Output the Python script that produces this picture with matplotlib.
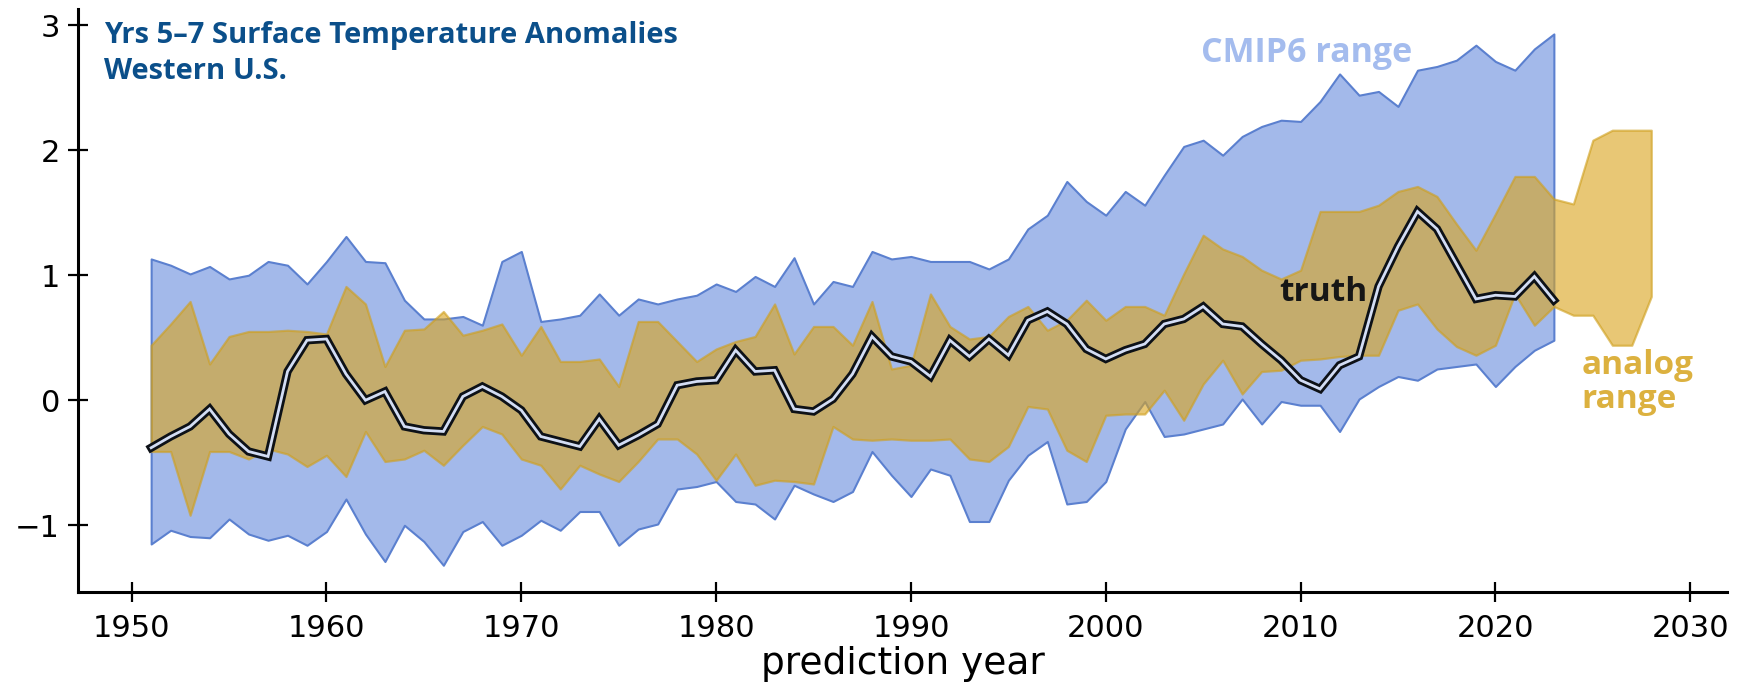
import numpy as np
import matplotlib.pyplot as plt

# prediction years
years = np.arange(1951, 2024)
analog_years = np.arange(1951, 2029)

truth = [-0.38, -0.29, -0.21, -0.07, -0.27, -0.41, -0.45, 0.23, 0.48, 0.49,
         0.21, 0.00, 0.07, -0.21, -0.24, -0.25, 0.03, 0.11, 0.03, -0.08,
         -0.29, -0.33, -0.37, -0.15, -0.36, -0.28, -0.19, 0.12, 0.15, 0.16,
         0.40, 0.23, 0.24, -0.07, -0.09, 0.01, 0.21, 0.51, 0.35, 0.31,
         0.19, 0.48, 0.35, 0.49, 0.36, 0.64, 0.71, 0.61, 0.41, 0.33,
         0.40, 0.45, 0.61, 0.65, 0.75, 0.61, 0.59, 0.45, 0.32, 0.16,
         0.09, 0.28, 0.35, 0.91, 1.23, 1.51, 1.37, 1.09, 0.81, 0.84,
         0.83, 0.99, 0.80]

cmip_hi = [1.13, 1.08, 1.01, 1.07, 0.97, 1.00, 1.11, 1.08, 0.93, 1.11,
           1.31, 1.11, 1.10, 0.80, 0.65, 0.65, 0.67, 0.60, 1.11, 1.19,
           0.63, 0.65, 0.68, 0.85, 0.68, 0.81, 0.77, 0.81, 0.84, 0.93,
           0.87, 0.99, 0.91, 1.14, 0.77, 0.95, 0.91, 1.19, 1.13, 1.15,
           1.11, 1.11, 1.11, 1.05, 1.13, 1.37, 1.48, 1.75, 1.59, 1.48,
           1.67, 1.56, 1.80, 2.03, 2.08, 1.96, 2.11, 2.19, 2.24, 2.23,
           2.39, 2.61, 2.44, 2.47, 2.35, 2.64, 2.67, 2.72, 2.84, 2.71,
           2.64, 2.81, 2.93]

cmip_lo = [-1.15, -1.04, -1.09, -1.10, -0.95, -1.07, -1.12, -1.08, -1.16, -1.05,
           -0.79, -1.07, -1.29, -1.00, -1.13, -1.32, -1.05, -0.97, -1.16, -1.08,
           -0.96, -1.04, -0.89, -0.89, -1.16, -1.03, -0.99, -0.71, -0.69, -0.65,
           -0.81, -0.83, -0.95, -0.68, -0.75, -0.81, -0.73, -0.41, -0.60, -0.77,
           -0.55, -0.60, -0.97, -0.97, -0.64, -0.44, -0.33, -0.83, -0.81, -0.65,
           -0.23, -0.01, -0.29, -0.27, -0.23, -0.19, 0.01, -0.19, -0.01, -0.04,
           -0.04, -0.25, 0.01, 0.11, 0.19, 0.16, 0.25, 0.27, 0.29, 0.11,
           0.27, 0.40, 0.48]

analog_hi = [0.44, 0.61, 0.79, 0.29, 0.51, 0.55, 0.55, 0.56, 0.55, 0.53,
             0.91, 0.77, 0.27, 0.56, 0.57, 0.71, 0.52, 0.56, 0.61, 0.36,
             0.59, 0.31, 0.31, 0.33, 0.11, 0.63, 0.63, 0.47, 0.31, 0.41,
             0.47, 0.51, 0.77, 0.37, 0.59, 0.59, 0.44, 0.79, 0.25, 0.28,
             0.85, 0.59, 0.49, 0.51, 0.67, 0.75, 0.56, 0.64, 0.80, 0.64,
             0.75, 0.75, 0.68, 1.01, 1.32, 1.21, 1.15, 1.04, 0.97, 1.04,
             1.51, 1.51, 1.51, 1.56, 1.67, 1.71, 1.63, 1.41, 1.20, 1.49,
             1.79, 1.79, 1.61, 1.57, 2.08, 2.16, 2.16, 2.16]

analog_lo = [-0.41, -0.41, -0.92, -0.41, -0.41, -0.47, -0.39, -0.43, -0.53, -0.44,
             -0.61, -0.25, -0.49, -0.47, -0.40, -0.52, -0.36, -0.21, -0.27, -0.47,
             -0.52, -0.71, -0.52, -0.59, -0.65, -0.49, -0.31, -0.31, -0.43, -0.64,
             -0.43, -0.68, -0.64, -0.65, -0.67, -0.21, -0.31, -0.32, -0.31, -0.32,
             -0.32, -0.31, -0.47, -0.49, -0.37, -0.05, -0.07, -0.40, -0.49, -0.12,
             -0.11, -0.11, 0.08, -0.16, 0.13, 0.32, 0.05, 0.23, 0.24, 0.32,
             0.33, 0.35, 0.36, 0.36, 0.72, 0.77, 0.57, 0.43, 0.36, 0.44,
             0.85, 0.60, 0.75, 0.68, 0.68, 0.44, 0.44, 0.83]

xticks = np.arange(1950, 2031, 10)
yticks = [-1, 0, 1, 2, 3]

fig = plt.figure(figsize=(17.47, 6.87), dpi=100)
ax = fig.add_axes([0.0447, 0.139, 0.944, 0.848])

ax.fill_between(years, cmip_lo, cmip_hi, facecolor='#a3b9ea',
                edgecolor='#5b80cf', linewidth=1.5, zorder=1)
ax.fill_between(analog_years, analog_lo, analog_hi, facecolor='#daa520',
                alpha=0.62, edgecolor='#cf9f1c', linewidth=1.6, zorder=2)

# truth: black line with a light inner stroke
ax.plot(years, truth, color='#0d1117', linewidth=6, solid_joinstyle='miter', zorder=3)
ax.plot(years, truth, color='#d3ddf4', linewidth=2.0, solid_joinstyle='miter', zorder=4)

ax.set_xlim(1947.25, 2031.9)
ax.set_ylim(-1.53, 3.13)
ax.set_xticks(xticks)
ax.set_yticks(yticks)
ax.set_xticklabels([str(t) for t in xticks])
ax.set_yticklabels(['\u22121', '0', '1', '2', '3'])

for s in ['top', 'right']:
    ax.spines[s].set_visible(False)
for s in ['left', 'bottom']:
    ax.spines[s].set_linewidth(2.2)
ax.tick_params(direction='inout', length=14, width=1.6, labelsize=22, pad=6)
ax.tick_params(axis='x', pad=9)
ax.set_xlabel('prediction year', fontsize=27, labelpad=2)

ax.text(0.016, 0.98, 'Yrs 5\u20137 Surface Temperature Anomalies\nWestern U.S.',
        transform=ax.transAxes, ha='left', va='top', fontsize=21,
        fontweight='bold', color='#0b4f8a', family='Open Sans', linespacing=1.35)
ax.text(2004.9, 2.78, 'CMIP6 range', ha='left', va='center', fontsize=24.5,
        fontweight='bold', color='#a4bcee', family='Open Sans')
ax.text(2008.9, 0.86, 'truth', ha='left', va='center', fontsize=24,
        fontweight='bold', color='#161616', family='Open Sans')
ax.text(2024.4, 0.14, 'analog\nrange', ha='left', va='center', fontsize=24,
        fontweight='bold', color='#dcb13f', family='Open Sans', linespacing=1.05)

fig.savefig('out.png', dpi=100)
